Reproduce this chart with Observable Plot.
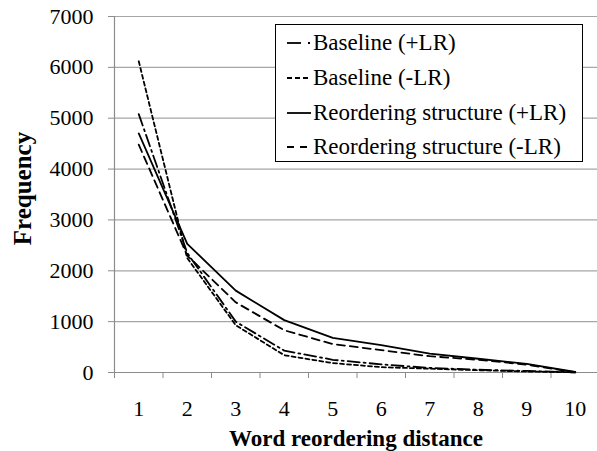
<!DOCTYPE html>
<html>
<head>
<meta charset="utf-8">
<script src="https://cdn.jsdelivr.net/npm/d3@7"></script>
<script src="https://cdn.jsdelivr.net/npm/@observablehq/plot@0.6"></script>
<style>
  body { margin: 0; background: #fff; }
  #wrap { position: relative; width: 597px; height: 451px; font-family: "Liberation Serif", "Times New Roman", serif; }
  #legend { position: absolute; left: 275px; top: 24px; width: 308px; height: 138px; border: 1px solid #000; background: #fff; box-sizing: border-box; }
  .row { position: absolute; left: 0; height: 30px; display: flex; align-items: center; font-size: 23px; color: #000; white-space: nowrap; }
  .row svg { margin-left: 11px; margin-right: 2px; }
</style>
</head>
<body>
<div id="wrap"></div>
<script>
const distances = [1, 2, 3, 4, 5, 6, 7, 8, 9, 10];
const baselinePlusLR  = [5080, 2350, 1000, 430, 250, 160, 90, 55, 30, 5];
const baselineMinusLR = [6120, 2250, 930, 340, 185, 105, 75, 45, 20, 3];
const reorderPlusLR   = [4700, 2530, 1610, 1030, 680, 540, 370, 270, 170, 10];
const reorderMinusLR  = [4480, 2300, 1380, 830, 560, 440, 320, 250, 155, 5];
const seriesNames = ["Baseline (+LR)", "Baseline (-LR)", "Reordering structure (+LR)", "Reordering structure (-LR)"];
const yTicks = [0, 1000, 2000, 3000, 4000, 5000, 6000, 7000];
const xEdges = [0.5, 1.5, 2.5, 3.5, 4.5, 5.5, 6.5, 7.5, 8.5, 9.5, 10.5];

const seriesValues = [baselinePlusLR, baselineMinusLR, reorderPlusLR, reorderMinusLR];
const dashes = ["12,4,2,4", "4,3", null, "8,5"];
const legendDashes = [null, "5,3", null, "7,6"];
const tables = seriesValues.map(vals => distances.map((d, i) => ({x: d, y: vals[i]})));

const grid = "#a6a6a6";
const axisGray = "#8c8c8c";

const lineMarks = tables.map((t, k) => Plot.line(t, {
  x: "x", y: "y", stroke: "#000", strokeWidth: 1.8,
  strokeDasharray: dashes[k] || undefined
}));

const chart = Plot.plot({
  width: 597,
  height: 451,
  marginLeft: 114,
  marginRight: 0,
  marginTop: 16,
  marginBottom: 79,
  style: {fontFamily: "Liberation Serif, Times New Roman, serif", fontSize: "22px", background: "#fff", color: "#000"},
  x: {domain: [0.5, 10.5], range: [114, 599], axis: null},
  y: {domain: [0, 7000], axis: null},
  marks: [
    Plot.ruleY(yTicks.filter(d => d > 0), {stroke: grid, strokeWidth: 1.2}),
    Plot.ruleY([0], {stroke: axisGray, strokeWidth: 1.2}),
    Plot.ruleX([0.5], {stroke: axisGray, strokeWidth: 1.2}),
    Plot.axisY({ticks: yTicks, tickSize: 6, tickPadding: 15, tickFormat: d3.format("d"), label: null, stroke: axisGray, fill: "#000"}),
    Plot.axisX({ticks: xEdges, tickSize: 6, tickFormat: () => "", label: null, stroke: axisGray}),
    Plot.text(distances, {x: d => d, frameAnchor: "bottom", dy: 36, text: d => String(d), lineAnchor: "middle", fontSize: 22, fill: "#000"}),
    ...lineMarks,
    Plot.text(["Frequency"], {frameAnchor: "left", textAnchor: "middle", dx: -92, dy: -6, rotate: -90, fontWeight: "bold", fontSize: 25, fill: "#000"}),
    Plot.text(["Word reordering distance"], {frameAnchor: "bottom", dy: 66, fontWeight: "bold", fontSize: 23, fill: "#000", lineAnchor: "middle"})
  ]
});

const wrap = document.getElementById("wrap");
wrap.appendChild(chart);

// Legend
const legend = document.createElement("div");
legend.id = "legend";
const rowTops = [3, 38, 73, 107];
seriesNames.forEach((name, k) => {
  const row = document.createElement("div");
  row.className = "row";
  row.style.top = rowTops[k] + "px";
  const dash = legendDashes[k];
  const sample = k === 0
    ? `<svg width="24" height="10"><line x1="0" y1="5" x2="14" y2="5" stroke="#000" stroke-width="1.8"/><line x1="21" y1="5" x2="23" y2="5" stroke="#000" stroke-width="1.8"/></svg>`
    : `<svg width="24" height="10"><line x1="0" y1="5" x2="24" y2="5" stroke="#000" stroke-width="1.8" ${dash ? `stroke-dasharray="${dash}"` : ""}/></svg>`;
  row.innerHTML = sample + `<span>${name}</span>`;
  legend.appendChild(row);
});
wrap.appendChild(legend);
</script>
</body>
</html>
